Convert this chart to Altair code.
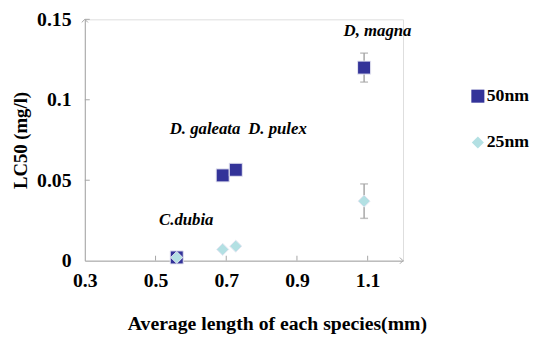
import altair as alt
import pandas as pd

# data
species = ["C.dubia", "D. galeata", "D. pulex", "D, magna"]
length_mm = [0.56, 0.69, 0.727, 1.09]
lc50_50nm = [0.002, 0.053, 0.0565, 0.120]
err_50nm = [0.0, 0.0, 0.0, 0.009]
lc50_25nm = [0.002, 0.007, 0.009, 0.037]
err_25nm = [0.0, 0.0, 0.0, 0.0107]

label_text = ["C.dubia", "D. galeata", "D. pulex", "D, magna"]
label_x = [0.587, 0.64, 0.845, 1.128]
label_y = [0.0255, 0.082, 0.082, 0.143]

x_ticks = [0.3, 0.5, 0.7, 0.9, 1.1]
y_ticks = [0, 0.05, 0.1, 0.15]

rows = []
for s, x, y, e in zip(species, length_mm, lc50_50nm, err_50nm):
    rows.append({"species": s, "x": x, "y": y, "lo": y - e, "hi": y + e, "err": e, "series": "50nm"})
for s, x, y, e in zip(species, length_mm, lc50_25nm, err_25nm):
    rows.append({"species": s, "x": x, "y": y, "lo": y - e, "hi": y + e, "err": e, "series": "25nm"})
df = pd.DataFrame(rows)
df_err = df[df["err"] > 0]
labels = pd.DataFrame({"t": label_text, "x": label_x, "y": label_y})

FONT = "Liberation Serif, serif"
GRAY = "#a6a6a6"
W, H = 323, 245

xs = alt.Scale(domain=[0.3, 1.2], nice=False, zero=False)
ys = alt.Scale(domain=[0, 0.15], nice=False)

xaxis = alt.Axis(values=x_ticks, format="~g", grid=False, ticks=False, domainColor=GRAY,
                 labelFont=FONT, labelFontSize=20, labelFontWeight="bold", labelColor="black",
                 labelPadding=10, labelFlush=False, title="Average length of each species(mm)",
                 titleFont=FONT, titleFontSize=20, titleFontWeight="bold", titleColor="black",
                 titlePadding=24, titleX=195)
yaxis = alt.Axis(values=y_ticks, format="~g", grid=False, ticks=False, domainColor=GRAY,
                 labelFont=FONT, labelFontSize=20, labelFontWeight="bold", labelColor="black",
                 labelPadding=14, labelFlush=False, title="LC50 (mg/l)",
                 titleFont=FONT, titleFontSize=19, titleFontWeight="bold", titleColor="black",
                 titlePadding=6)

base = alt.Chart(df)

axes = alt.Chart(pd.DataFrame({"x": [0.3], "y": [0]})).mark_point(opacity=0).encode(
    x=alt.X("x:Q", scale=xs, axis=xaxis),
    y=alt.Y("y:Q", scale=ys, axis=yaxis),
)

xt = alt.Chart(pd.DataFrame({"x": x_ticks[1:]})).mark_rule(color=GRAY, strokeWidth=1).encode(
    x=alt.X("x:Q", scale=xs), y=alt.value(H), y2=alt.value(H - 5))
yt = alt.Chart(pd.DataFrame({"y": y_ticks[1:]})).mark_rule(color=GRAY, strokeWidth=1).encode(
    y=alt.Y("y:Q", scale=ys), x=alt.value(0), x2=alt.value(5))

arrow_x = alt.Chart(pd.DataFrame({"x": [1.2], "y": [0]})).mark_point(
    shape="M-1,-1L0,0L-1,1", size=40, filled=False, color=GRAY, strokeWidth=1, opacity=1
).encode(x=alt.X("x:Q", scale=xs), y=alt.Y("y:Q", scale=ys))
arrow_y = alt.Chart(pd.DataFrame({"x": [0.3], "y": [0.15]})).mark_point(
    shape="M-1,1L0,0L1,1", size=40, filled=False, color=GRAY, strokeWidth=1, opacity=1
).encode(x=alt.X("x:Q", scale=xs), y=alt.Y("y:Q", scale=ys))

err_rule = alt.Chart(df_err).mark_rule(color=GRAY, strokeWidth=1.5).encode(
    x=alt.X("x:Q", scale=xs), y=alt.Y("lo:Q", scale=ys), y2="hi:Q")
cap_lo = alt.Chart(df_err).mark_tick(color=GRAY, orient="horizontal", size=8, thickness=1.5).encode(
    x=alt.X("x:Q", scale=xs), y=alt.Y("lo:Q", scale=ys))
cap_hi = alt.Chart(df_err).mark_tick(color=GRAY, orient="horizontal", size=8, thickness=1.5).encode(
    x=alt.X("x:Q", scale=xs), y=alt.Y("hi:Q", scale=ys))

pts = base.mark_point(filled=True, opacity=1, stroke="#e6e6f2", strokeWidth=1).encode(
    x=alt.X("x:Q", scale=xs),
    y=alt.Y("y:Q", scale=ys),
    color=alt.Color("series:N", scale=alt.Scale(domain=["50nm", "25nm"], range=["#333399", "#b3e0e3"]),
                    legend=alt.Legend(title=None, orient="none", legendX=390, legendY=69,
                                      labelFont=FONT, labelFontSize=18, labelFontWeight="bold",
                                      labelColor="black", rowPadding=29, symbolSize=170,
                                      symbolStrokeWidth=0, labelOffset=0)),
    shape=alt.Shape("series:N", scale=alt.Scale(domain=["50nm", "25nm"], range=["square", "diamond"])),
    size=alt.Size("series:N", scale=alt.Scale(domain=["50nm", "25nm"], range=[175, 150]), legend=None),
)

txt = alt.Chart(labels).mark_text(font=FONT, fontSize=17, fontWeight="bold", fontStyle="italic",
                                  color="black").encode(
    x=alt.X("x:Q", scale=xs), y=alt.Y("y:Q", scale=ys), text="t:N")

chart = alt.layer(axes, xt, yt, arrow_x, arrow_y, err_rule, cap_lo, cap_hi, pts, txt).properties(
    width=W, height=H, autosize=alt.AutoSizeParams(type="none"),
    padding={"left": 78, "top": 9, "right": 133, "bottom": 76}
).configure_view(stroke=None).configure(background="white", font=FONT)

chart.save("out.html", embed_options={"renderer": "svg", "actions": False})
